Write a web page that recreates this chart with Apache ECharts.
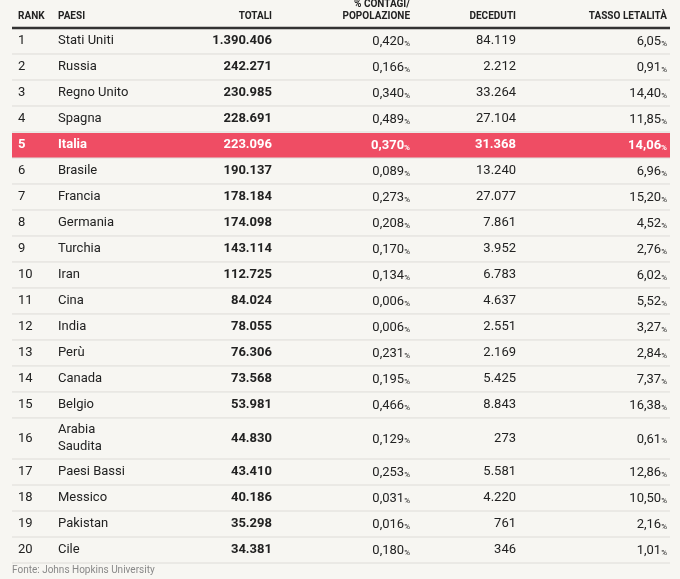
<!DOCTYPE html>
<html>
<head>
<meta charset="utf-8">
<script src="https://cdn.jsdelivr.net/npm/echarts@6/dist/echarts.min.js"></script>
<style>
  html, body { margin: 0; padding: 0; background: #f7f6f2; }
  #chart { width: 680px; height: 579px; }
</style>
</head>
<body>
<div id="chart"></div>
<script>
const paesi = ['Stati Uniti', 'Russia', 'Regno Unito', 'Spagna', 'Italia', 'Brasile', 'Francia', 'Germania',
    'Turchia', 'Iran', 'Cina', 'India', 'Perù', 'Canada', 'Belgio', 'Arabia\nSaudita', 'Paesi Bassi',
    'Messico', 'Pakistan', 'Cile'];
const totali = ['1.390.406', '242.271', '230.985', '228.691', '223.096', '190.137', '178.184', '174.098',
    '143.114', '112.725', '84.024', '78.055', '76.306', '73.568', '53.981', '44.830', '43.410', '40.186',
    '35.298', '34.381'];
const contagiPop = ['0,420', '0,166', '0,340', '0,489', '0,370', '0,089', '0,273', '0,208', '0,170', '0,134',
    '0,006', '0,006', '0,231', '0,195', '0,466', '0,129', '0,253', '0,031', '0,016', '0,180'];
const deceduti = ['84.119', '2.212', '33.264', '27.104', '31.368', '13.240', '27.077', '7.861', '3.952',
    '6.783', '4.637', '2.551', '2.169', '5.425', '8.843', '273', '5.581', '4.220', '761', '346'];
const letalita = ['6,05', '0,91', '14,40', '11,85', '14,06', '6,96', '15,20', '4,52', '2,76', '6,02', '5,52',
    '3,27', '2,84', '7,37', '16,38', '0,61', '12,86', '10,50', '2,16', '1,01'];
const highlight = 'Italia';

// row heights (Arabia Saudita wraps on two lines)
let rowTop = [];
let acc = 0;
for (let i = 0; i < paesi.length; i++) {
    rowTop.push(acc);
    acc += paesi[i].indexOf('\n') >= 0 ? 1.58 : 1;
}
rowTop.push(acc);

const font = 'Roboto, sans-serif';

function renderRow(params, api) {
    let i = params.dataIndex;
    let p0 = api.coord([0, rowTop[i]]);
    let p1 = api.coord([658, rowTop[i + 1]]);
    let cy = (p0[1] + p1[1]) / 2;
    let hi = paesi[i] === highlight;
    let col = hi ? '#fff' : '#222';
    let w = hi ? 'bold' : 'normal';
    let x = function (v) { return api.coord([v, 0])[0]; };
    let txt = function (px, s, align, bold) {
        return {
            type: 'text', x: x(px), y: cy,
            style: {
                text: s, fill: col, align: align, verticalAlign: 'middle',
                font: (bold || hi ? 'bold ' : '') + '13px ' + font, lineHeight: 17
            }
        };
    };
    let pct = function (px, s) {
        return {
            type: 'text', x: x(px), y: cy + 1,
            style: {
                text: '{a|' + s + '}{b|%}', align: 'right', verticalAlign: 'middle',
                rich: {
                    a: { fill: col, font: w + ' 13px ' + font },
                    b: { fill: col, font: w + ' 8px ' + font, padding: [4, 0, 0, 0] }
                }
            }
        };
    };
    let children = [];
    if (hi) {
        children.push({
            type: 'rect',
            shape: { x: p0[0], y: p0[1] + 1, width: p1[0] - p0[0], height: p1[1] - p0[1] - 1 },
            style: { fill: '#ef4d64' }
        });
    }
    children.push({
        type: 'line',
        shape: { x1: p0[0], y1: p1[1], x2: p1[0], y2: p1[1] },
        style: { stroke: '#dedcd8', lineWidth: 1 }
    });
    children.push(txt(6, String(i + 1), 'left'));
    children.push(txt(46, paesi[i], 'left'));
    children.push(txt(260, totali[i], 'right', true));
    children.push(pct(398, contagiPop[i]));
    children.push(txt(504, deceduti[i], 'right'));
    children.push(pct(655, letalita[i]));
    return { type: 'group', children: children };
}

const chart = echarts.init(document.getElementById('chart'));
const hdr = function (x, y, s, align) {
    return {
        type: 'text', x: x, y: y,
        style: { text: s, align: align, font: 'bold 10px ' + font, fill: '#222', lineHeight: 12 }
    };
};
chart.setOption({
    backgroundColor: '#f7f6f2',
    animation: false,
    grid: { left: 12, right: 10, top: 28, bottom: 16 },
    xAxis: { type: 'value', min: 0, max: 658, show: false },
    yAxis: { type: 'value', min: 0, max: acc, inverse: true, show: false },
    series: [{
        type: 'custom',
        renderItem: renderRow,
        data: paesi.map(function (p, i) { return [i, rowTop[i]]; }),
        clip: false
    }],
    graphic: [
        hdr(18, 10, 'RANK', 'left'),
        hdr(58, 10, 'PAESI', 'left'),
        hdr(272, 10, 'TOTALI', 'right'),
        hdr(410, -2, '% CONTAGI/\nPOPOLAZIONE', 'right'),
        hdr(516, 10, 'DECEDUTI', 'right'),
        hdr(667, 10, 'TASSO LETALITÀ', 'right'),
        {
            type: 'line', shape: { x1: 12, y1: 28, x2: 670, y2: 28 },
            style: { stroke: '#333', lineWidth: 2.5 }
        },
        {
            type: 'text', x: 12, y: 565,
            style: { text: 'Fonte: Johns Hopkins University', font: '10px ' + font, fill: '#888' }
        }
    ]
});
</script>
</body>
</html>
